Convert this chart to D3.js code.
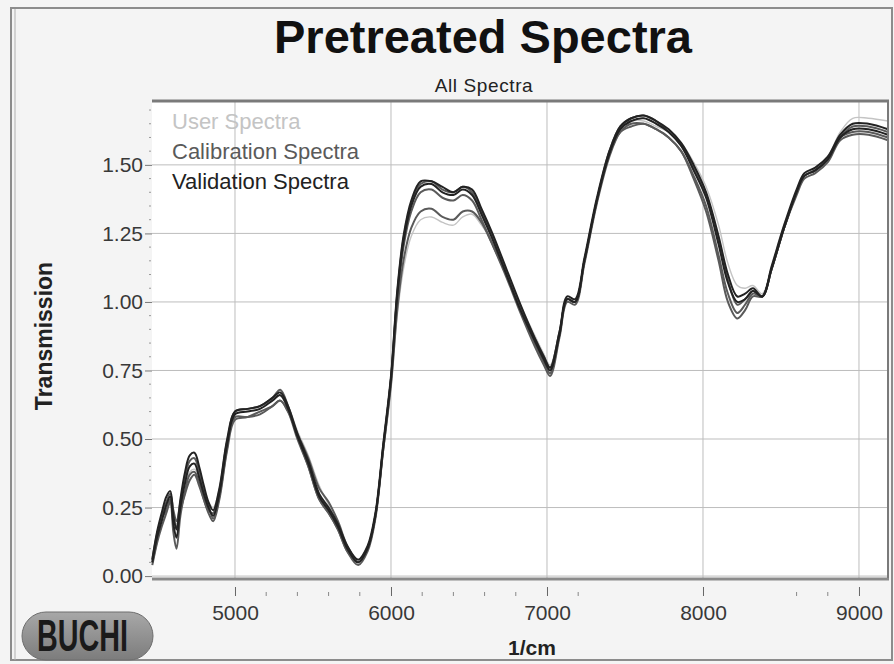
<!DOCTYPE html>
<html lang="en">
<head>
  <meta charset="UTF-8" />
  <title>Pretreated Spectra</title>
  <script src="https://cdn.jsdelivr.net/npm/d3@7"></script>
  <style>
    body {
      margin: 0;
      background-color: #f4f4f4;
      font-family: "Liberation Sans", Arial, sans-serif;
    }
    svg { display: block; }
  </style>
</head>
<body>
  <div id="chart"></div>

  <script>
    // wavenumbers (1/cm)
    const wavenumbers = [
      4470, 4500, 4530, 4560, 4585, 4605, 4625, 4650, 4680, 4710,
      4740, 4770, 4800, 4830, 4860, 4900, 4950, 5000, 5080, 5160,
      5240, 5290, 5340, 5400, 5470, 5540, 5600, 5660, 5720, 5790,
      5850, 5900, 5950, 6000, 6040, 6080, 6130, 6190, 6260, 6330,
      6400, 6460, 6520, 6580, 6650, 6740, 6830, 6920, 6980, 7020,
      7080, 7130, 7180, 7240, 7320, 7400, 7470, 7540, 7620, 7700,
      7780, 7860, 7940, 8020, 8100, 8160, 8220, 8270, 8320, 8380,
      8440, 8520, 8600, 8650, 8720, 8800, 8880, 8960, 9060, 9185
    ];

    const userSpectrum1 = [
      0.07, 0.16, 0.22, 0.26, 0.29, 0.23, 0.19, 0.26, 0.33, 0.38,
      0.39, 0.36, 0.31, 0.27, 0.25, 0.32, 0.50, 0.60, 0.61, 0.62,
      0.64, 0.66, 0.62, 0.53, 0.44, 0.33, 0.26, 0.19, 0.11, 0.06,
      0.11, 0.22, 0.45, 0.68, 0.95, 1.12, 1.24, 1.30, 1.31, 1.29,
      1.28, 1.31, 1.32, 1.28, 1.22, 1.11, 0.99, 0.88, 0.81, 0.77,
      0.89, 1.01, 1.00, 1.15, 1.37, 1.54, 1.63, 1.66, 1.66, 1.64,
      1.62, 1.58, 1.51, 1.42, 1.28, 1.14, 1.06, 1.05, 1.06, 1.03,
      1.13, 1.28, 1.40, 1.46, 1.49, 1.53, 1.62, 1.67, 1.67, 1.66
    ];

    const calSpectrum1 = [
      0.04, 0.12, 0.18, 0.23, 0.27, 0.16, 0.10, 0.22, 0.31, 0.37,
      0.38, 0.34, 0.28, 0.23, 0.20, 0.28, 0.46, 0.57, 0.58, 0.60,
      0.62, 0.64, 0.60, 0.50, 0.40, 0.28, 0.23, 0.17, 0.09, 0.04,
      0.09, 0.21, 0.46, 0.71, 1.00, 1.20, 1.33, 1.40, 1.41, 1.38,
      1.37, 1.39, 1.37, 1.30, 1.21, 1.09, 0.96, 0.84, 0.77, 0.73,
      0.87, 1.00, 0.99, 1.14, 1.36, 1.53, 1.62, 1.65, 1.65, 1.63,
      1.60, 1.55, 1.46, 1.35, 1.17, 1.03, 0.96, 0.99, 1.03, 1.02,
      1.12, 1.27, 1.39, 1.45, 1.47, 1.51, 1.59, 1.61, 1.61, 1.59
    ];

    const calSpectrum2 = [
      0.06, 0.15, 0.21, 0.24, 0.28, 0.21, 0.18, 0.24, 0.30, 0.35,
      0.37, 0.33, 0.28, 0.24, 0.23, 0.31, 0.49, 0.58, 0.58, 0.59,
      0.62, 0.64, 0.60, 0.52, 0.43, 0.32, 0.27, 0.20, 0.11, 0.05,
      0.10, 0.22, 0.46, 0.70, 0.97, 1.15, 1.27, 1.33, 1.34, 1.31,
      1.30, 1.33, 1.33, 1.29, 1.21, 1.10, 0.98, 0.87, 0.80, 0.76,
      0.89, 1.01, 1.00, 1.15, 1.37, 1.54, 1.62, 1.64, 1.65, 1.63,
      1.60, 1.55, 1.45, 1.33, 1.15, 1.00, 0.94, 0.97, 1.02, 1.02,
      1.12, 1.27, 1.40, 1.46, 1.48, 1.52, 1.60, 1.62, 1.62, 1.60
    ];

    const calSpectrum3 = [
      0.05, 0.13, 0.22, 0.27, 0.30, 0.24, 0.20, 0.27, 0.36, 0.42,
      0.43, 0.38, 0.31, 0.26, 0.21, 0.29, 0.47, 0.60, 0.61, 0.62,
      0.65, 0.68, 0.62, 0.51, 0.40, 0.28, 0.23, 0.17, 0.09, 0.05,
      0.10, 0.22, 0.47, 0.72, 1.03, 1.23, 1.36, 1.43, 1.44, 1.41,
      1.40, 1.42, 1.40, 1.33, 1.24, 1.11, 0.97, 0.85, 0.78, 0.74,
      0.88, 1.01, 1.00, 1.15, 1.37, 1.55, 1.64, 1.67, 1.68, 1.66,
      1.62, 1.57, 1.49, 1.39, 1.22, 1.08, 0.99, 1.01, 1.04, 1.02,
      1.12, 1.27, 1.40, 1.46, 1.48, 1.52, 1.60, 1.64, 1.64, 1.62
    ];

    const valSpectrum1 = [
      0.05, 0.14, 0.20, 0.26, 0.29, 0.19, 0.14, 0.25, 0.34, 0.40,
      0.41, 0.36, 0.30, 0.25, 0.22, 0.30, 0.48, 0.59, 0.60, 0.61,
      0.64, 0.66, 0.61, 0.51, 0.41, 0.29, 0.24, 0.18, 0.10, 0.05,
      0.10, 0.22, 0.47, 0.72, 1.02, 1.22, 1.35, 1.42, 1.43, 1.40,
      1.39, 1.41, 1.39, 1.32, 1.23, 1.10, 0.97, 0.86, 0.79, 0.75,
      0.88, 1.01, 1.00, 1.15, 1.37, 1.54, 1.63, 1.66, 1.67, 1.65,
      1.62, 1.57, 1.48, 1.38, 1.21, 1.07, 1.00, 1.01, 1.04, 1.02,
      1.12, 1.27, 1.40, 1.46, 1.48, 1.52, 1.60, 1.63, 1.63, 1.61
    ];

    const valSpectrum2 = [
      0.06, 0.16, 0.23, 0.29, 0.31, 0.22, 0.17, 0.28, 0.38, 0.44,
      0.45, 0.40, 0.33, 0.27, 0.24, 0.32, 0.50, 0.60, 0.61, 0.62,
      0.65, 0.67, 0.62, 0.52, 0.42, 0.30, 0.25, 0.19, 0.11, 0.06,
      0.11, 0.23, 0.48, 0.73, 1.04, 1.24, 1.37, 1.44, 1.44, 1.42,
      1.40, 1.42, 1.41, 1.34, 1.25, 1.12, 0.99, 0.87, 0.80, 0.76,
      0.89, 1.02, 1.01, 1.16, 1.38, 1.55, 1.64, 1.67, 1.68, 1.66,
      1.63, 1.58, 1.50, 1.40, 1.24, 1.10, 1.02, 1.03, 1.05, 1.02,
      1.13, 1.28, 1.41, 1.47, 1.49, 1.53, 1.61, 1.65, 1.65, 1.63
    ];

    const seriesNames = ["User Spectra", "Calibration Spectra", "Validation Spectra"];
    const seriesColors = ["#c4c4c4", "#5a5a5a", "#222222"];

    const spectra = [
      { group: 0, values: userSpectrum1 },
      { group: 1, values: calSpectrum1 },
      { group: 1, values: calSpectrum2 },
      { group: 1, values: calSpectrum3 },
      { group: 2, values: valSpectrum1 },
      { group: 2, values: valSpectrum2 }
    ];

    const xTicks = [5000, 6000, 7000, 8000, 9000];
    const xMinorTicks = [5200, 5400, 5600, 5800, 6200, 6400, 6600, 6800, 7200, 8600, 8800];
    const yTicks = [0, 0.25, 0.5, 0.75, 1.0, 1.25, 1.5];

    const width = 894;
    const height = 664;
    const plot = { left: 152, right: 888, top: 101, bottom: 578 };

    const svg = d3.select("#chart")
      .append("svg")
      .attr("width", width)
      .attr("height", height);

    // outer frame
    svg.append("rect")
      .attr("x", 11).attr("y", 8)
      .attr("width", width - 13).attr("height", height - 12)
      .attr("fill", "#f4f4f4")
      .attr("stroke", "#8c8c8c")
      .attr("stroke-width", 2);

    svg.append("line")
      .attr("x1", 15).attr("x2", 15)
      .attr("y1", 9).attr("y2", height - 4)
      .attr("stroke", "#b0b0b0")
      .attr("stroke-width", 1);

    const xScale = d3.scaleLinear()
      .domain([4468, 9186])
      .range([plot.left, plot.right]);

    const yScale = d3.scaleLinear()
      .domain([-0.007, 1.733])
      .range([plot.bottom, plot.top]);

    // plot background
    svg.append("rect")
      .attr("x", plot.left).attr("y", plot.top)
      .attr("width", plot.right - plot.left)
      .attr("height", plot.bottom - plot.top)
      .attr("fill", "#ffffff");

    // grid
    const grid = svg.append("g").attr("class", "grid");
    grid.selectAll(".hgrid")
      .data(yTicks)
      .enter()
      .append("line")
      .attr("x1", plot.left).attr("x2", plot.right)
      .attr("y1", d => yScale(d)).attr("y2", d => yScale(d))
      .attr("stroke", "#bdbdbd")
      .attr("stroke-width", 1);

    grid.selectAll(".vgrid")
      .data(xTicks)
      .enter()
      .append("line")
      .attr("x1", d => xScale(d)).attr("x2", d => xScale(d))
      .attr("y1", plot.top).attr("y2", plot.bottom)
      .attr("stroke", "#bdbdbd")
      .attr("stroke-width", 1);

    // axes
    const yAxis = d3.axisLeft(yScale)
      .tickValues(yTicks)
      .tickSize(7)
      .tickFormat(d3.format(".2f"));

    const yAxisG = svg.append("g")
      .attr("transform", `translate(${plot.left}, 0)`)
      .call(yAxis);
    yAxisG.select(".domain").remove();
    yAxisG.selectAll("line").attr("stroke", "#777");
    yAxisG.selectAll("text")
      .attr("x", -9)
      .attr("font-family", "Liberation Sans, Arial, sans-serif")
      .attr("font-size", 21)
      .attr("fill", "#383838");

    const yMinor = d3.range(1, 35).map(i => i * 0.05).filter(v => Math.abs(v / 0.25 - Math.round(v / 0.25)) > 0.01);
    svg.append("g").selectAll("line")
      .data(yMinor)
      .enter()
      .append("line")
      .attr("x1", plot.left - 3).attr("x2", plot.left - 1)
      .attr("y1", d => yScale(d)).attr("y2", d => yScale(d))
      .attr("stroke", "#999");

    const xAxis = d3.axisBottom(xScale)
      .tickValues(xTicks)
      .tickSize(9)
      .tickPadding(9)
      .tickFormat(d3.format("d"));

    const xAxisG = svg.append("g")
      .attr("transform", `translate(0, ${plot.bottom + 9})`)
      .call(xAxis);
    xAxisG.select(".domain").remove();
    xAxisG.selectAll("line").attr("stroke", "#666");
    xAxisG.selectAll("text")
      .attr("font-family", "Liberation Sans, Arial, sans-serif")
      .attr("font-size", 21)
      .attr("fill", "#383838");

    svg.append("g").selectAll("line")
      .data(xMinorTicks)
      .enter()
      .append("line")
      .attr("x1", d => xScale(d)).attr("x2", d => xScale(d))
      .attr("y1", plot.bottom + 14).attr("y2", plot.bottom + 18)
      .attr("stroke", "#888");

    // spectra
    const line = d3.line()
      .x((d, i) => xScale(wavenumbers[i]))
      .y(d => yScale(d))
      .curve(d3.curveCatmullRom.alpha(0.5));

    const plotArea = svg.append("g");
    plotArea.selectAll(".spectrum")
      .data(spectra)
      .enter()
      .append("path")
      .attr("class", "spectrum")
      .attr("d", d => line(d.values))
      .attr("fill", "none")
      .attr("stroke", d => seriesColors[d.group])
      .attr("stroke-width", d => d.group === 0 ? 1.4 : 2)
      .attr("stroke-linejoin", "round");

    // frame lines of the plot
    svg.append("line")
      .attr("x1", plot.left).attr("x2", plot.right + 1)
      .attr("y1", plot.top).attr("y2", plot.top)
      .attr("stroke", "#7a7a7a").attr("stroke-width", 3);
    svg.append("line")
      .attr("x1", plot.left).attr("x2", plot.right + 1)
      .attr("y1", plot.bottom + 1).attr("y2", plot.bottom + 1)
      .attr("stroke", "#8a8a8a").attr("stroke-width", 3);
    svg.append("line")
      .attr("x1", plot.right).attr("x2", plot.right)
      .attr("y1", plot.top).attr("y2", plot.bottom)
      .attr("stroke", "#7a7a7a").attr("stroke-width", 2);

    // legend
    svg.append("g").selectAll("text")
      .data(seriesNames)
      .enter()
      .append("text")
      .attr("x", 172)
      .attr("y", (d, i) => 129 + i * 30)
      .attr("font-size", 22)
      .attr("fill", (d, i) => seriesColors[i])
      .text(d => d);

    // titles
    svg.append("text")
      .attr("x", 483).attr("y", 53)
      .attr("text-anchor", "middle")
      .attr("font-size", 47)
      .attr("font-weight", "bold")
      .attr("fill", "#111")
      .text("Pretreated Spectra");

    svg.append("text")
      .attr("x", 484).attr("y", 92)
      .attr("text-anchor", "middle")
      .attr("font-size", 19)
      .attr("letter-spacing", 0.6)
      .attr("fill", "#222")
      .text("All Spectra");

    svg.append("text")
      .attr("transform", "translate(52, 336) rotate(-90)")
      .attr("text-anchor", "middle")
      .attr("font-size", 23)
      .attr("font-weight", "bold")
      .attr("fill", "#222")
      .text("Transmission");

    svg.append("text")
      .attr("x", 532).attr("y", 655)
      .attr("text-anchor", "middle")
      .attr("font-size", 21)
      .attr("font-weight", "bold")
      .attr("fill", "#222")
      .text("1/cm");

    // logo
    const grad = svg.append("defs").append("linearGradient")
      .attr("id", "logoGrad")
      .attr("x1", 0).attr("y1", 0).attr("x2", 0).attr("y2", 1);
    grad.append("stop").attr("offset", "0%").attr("stop-color", "#a8a8a8");
    grad.append("stop").attr("offset", "100%").attr("stop-color", "#7c7c7c");

    svg.append("rect")
      .attr("x", 22).attr("y", 612)
      .attr("width", 131).attr("height", 48)
      .attr("rx", 24)
      .attr("fill", "url(#logoGrad)")
      .attr("stroke", "#6e6e6e");

    svg.append("text")
      .attr("x", 37).attr("y", 651)
      .attr("font-family", "Liberation Sans Narrow, Liberation Sans, Arial, sans-serif")
      .attr("font-size", 44)
      .attr("font-weight", "bold")
      .attr("textLength", 91)
      .attr("lengthAdjust", "spacingAndGlyphs")
      .attr("fill", "#1a1a1a")
      .text("BUCHI");
  </script>
</body>
</html>
